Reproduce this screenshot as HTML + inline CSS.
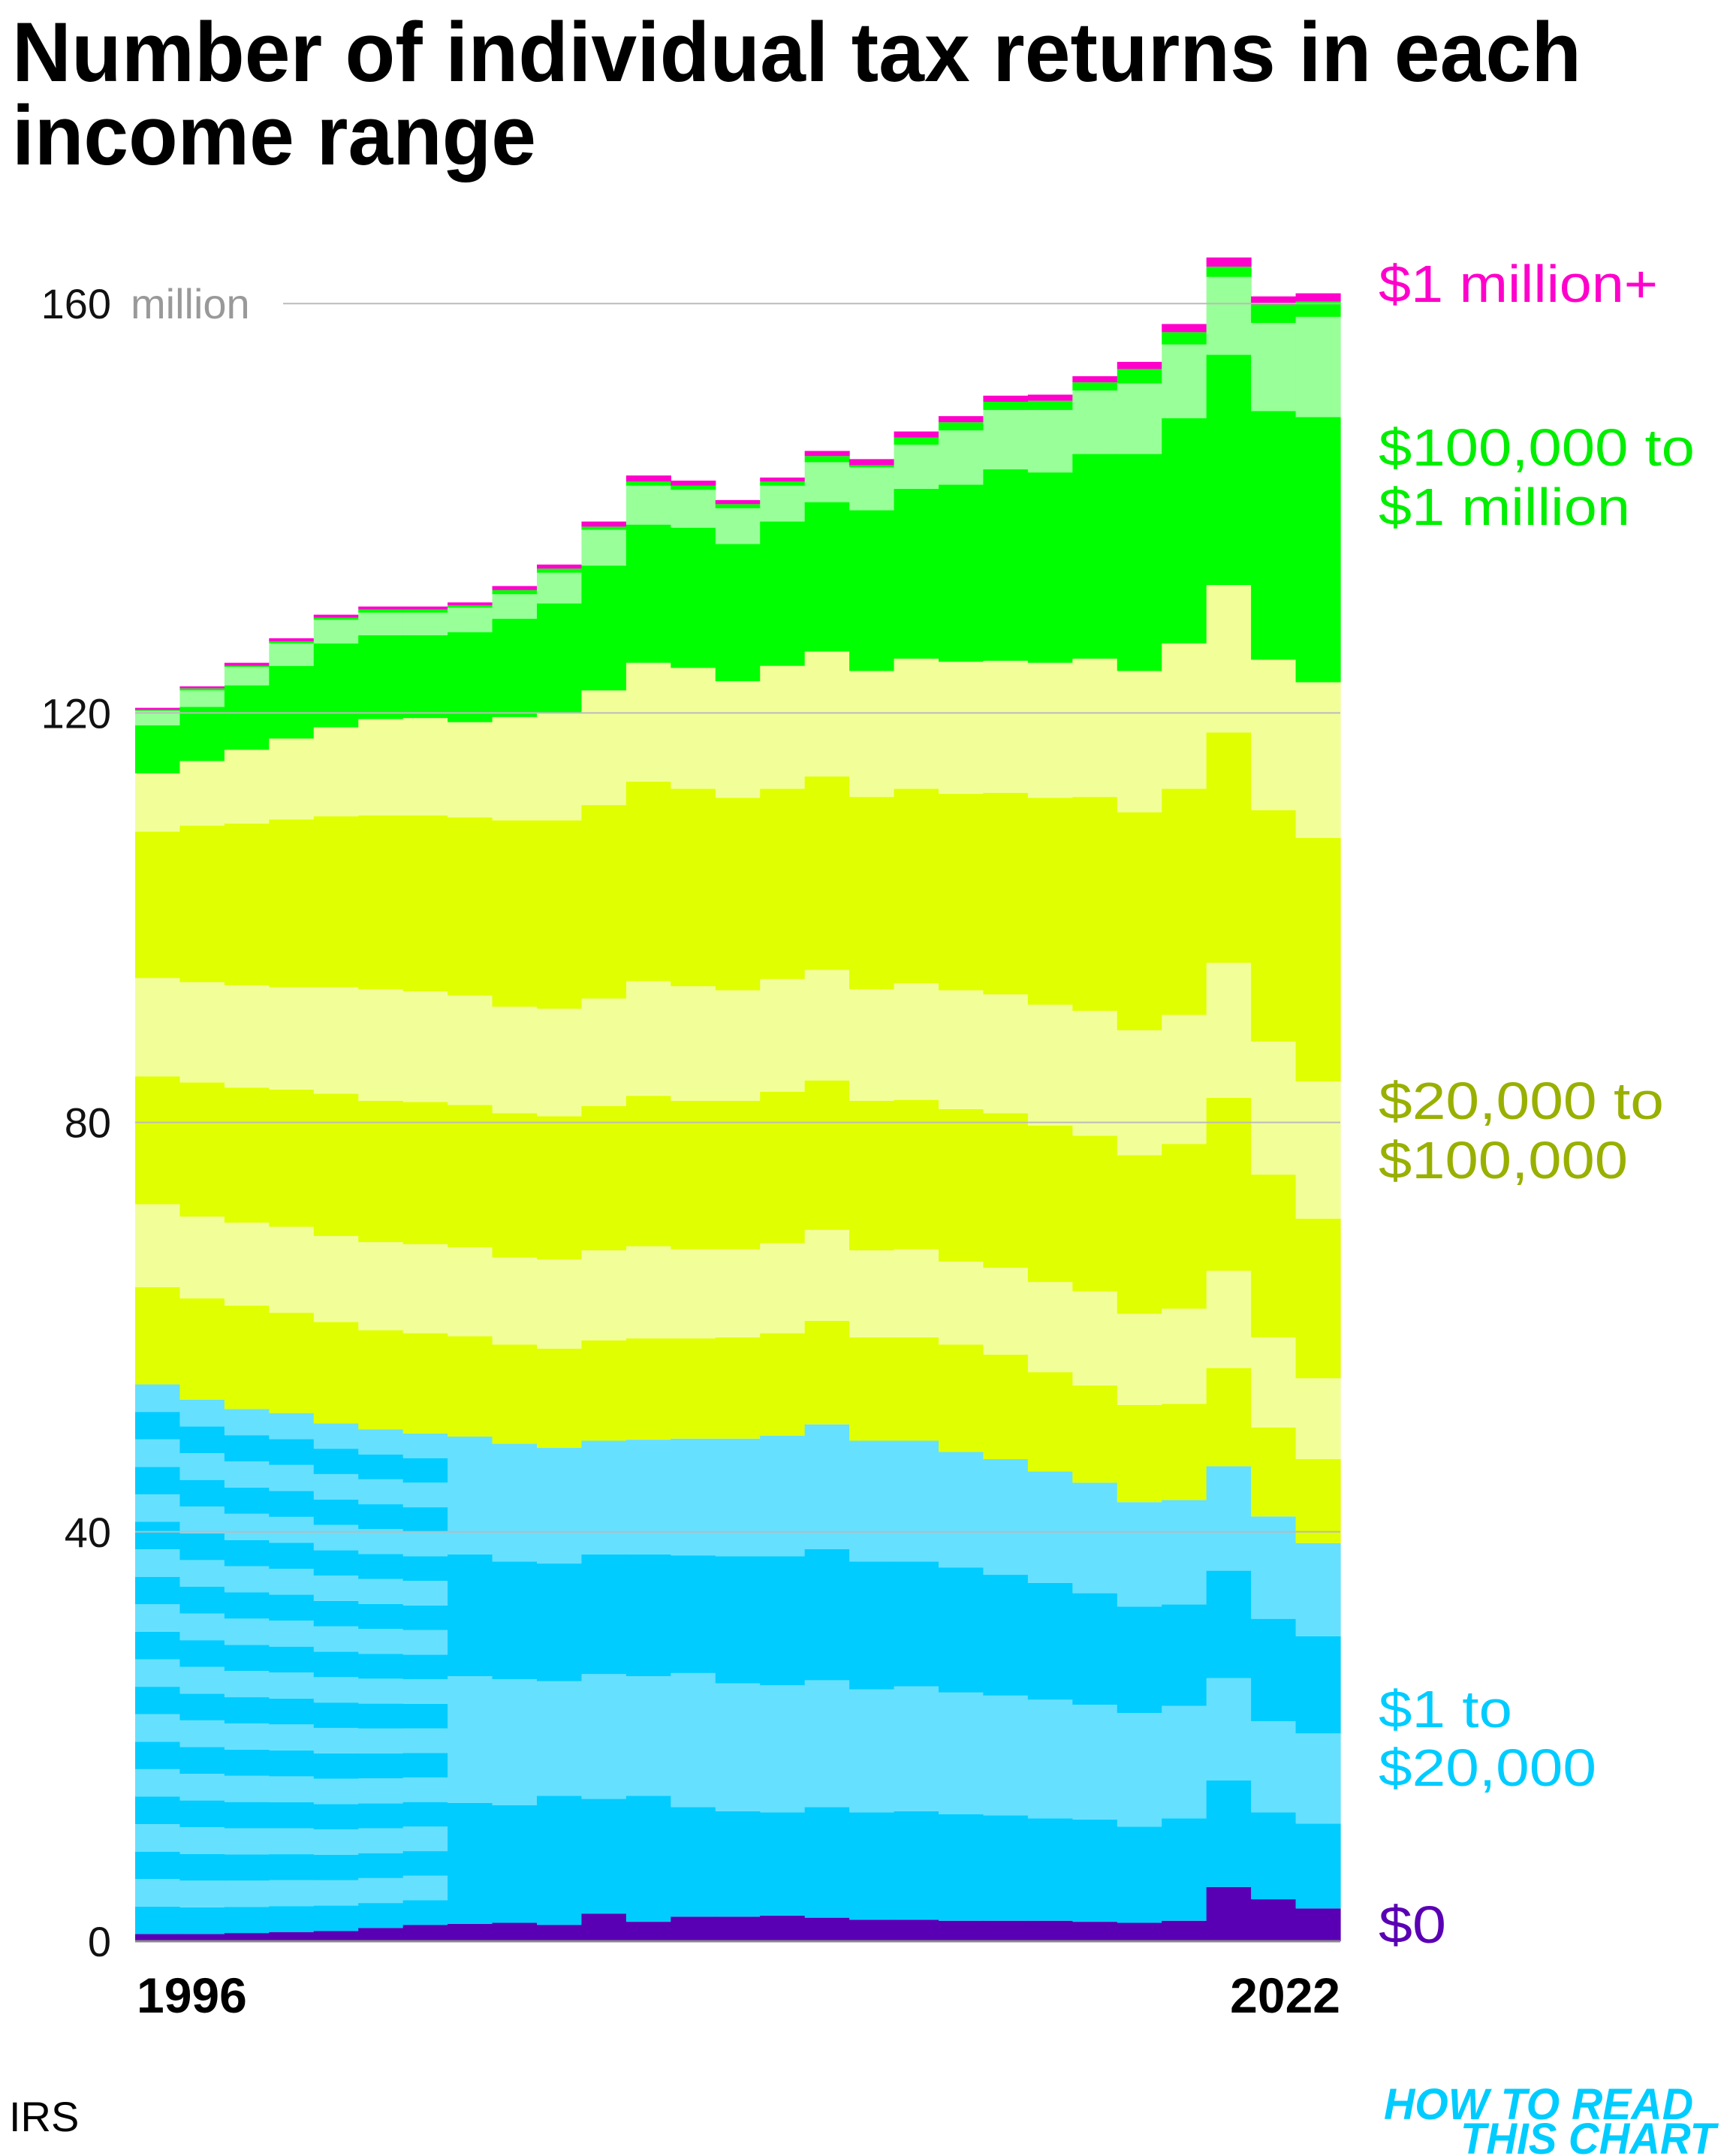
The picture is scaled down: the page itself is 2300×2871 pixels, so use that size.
<!DOCTYPE html>
<html><head><meta charset="utf-8"><style>
html,body{margin:0;padding:0;background:#fff;}
svg{display:block;}
text{font-family:"Liberation Sans",sans-serif;}
</style></head><body>
<svg id="chart" width="2300" height="2871" viewBox="0 0 2300 2871" xmlns="http://www.w3.org/2000/svg">
<g>
<text x="16" y="108" font-size="112" font-weight="bold" textLength="2090" lengthAdjust="spacingAndGlyphs" fill="#000">Number of individual tax returns in each</text>
<text x="16" y="219" font-size="112" font-weight="bold" textLength="698" lengthAdjust="spacingAndGlyphs" fill="#000">income range</text>
</g>
<g id="bars"></g>
<g id="grid"></g>
<g id="axis"></g>
<text x="182" y="2680" font-size="66" font-weight="bold" fill="#000">1996</text>
<text x="1785" y="2680" font-size="66" font-weight="bold" text-anchor="end" fill="#000">2022</text>
<g font-size="70">
<text x="1836" y="402" fill="#ff00cc" textLength="372" lengthAdjust="spacingAndGlyphs">$1 million+</text>
<text x="1836" y="620" fill="#00ee00" textLength="421" lengthAdjust="spacingAndGlyphs">$100,000 to</text>
<text x="1836" y="699" fill="#00ee00" textLength="335" lengthAdjust="spacingAndGlyphs">$1 million</text>
<text x="1836" y="1490" fill="#99b000" textLength="380" lengthAdjust="spacingAndGlyphs">$20,000 to</text>
<text x="1836" y="1569" fill="#99b000" textLength="332" lengthAdjust="spacingAndGlyphs">$100,000</text>
<text x="1836" y="2300" fill="#00ccff" textLength="178" lengthAdjust="spacingAndGlyphs">$1 to</text>
<text x="1836" y="2378" fill="#00ccff" textLength="290" lengthAdjust="spacingAndGlyphs">$20,000</text>
<text x="1836" y="2587" fill="#5a00b4" textLength="90" lengthAdjust="spacingAndGlyphs">$0</text>
</g>
<text x="12" y="2838" font-size="56" fill="#000">IRS</text>
<g font-weight="bold" font-style="italic" fill="#00ccff" font-size="58">
<text x="2255" y="2822" text-anchor="end" textLength="412" lengthAdjust="spacingAndGlyphs">HOW TO READ</text>
<text x="2285" y="2868" text-anchor="end" textLength="340" lengthAdjust="spacingAndGlyphs">THIS CHART</text>
</g>
</svg>
<script>
const years=[1996,1997,1998,1999,2000,2001,2002,2003,2004,2005,2006,2007,2008,2009,2010,2011,2012,2013,2014,2015,2016,2017,2018,2019,2020,2021,2022];
const stripedYears=7;
// cumulative tops (millions)
const zeroTop=[0.7,0.7,0.8,0.9,1.0,1.3,1.6,1.7,1.8,1.6,2.7,1.9,2.4,2.4,2.5,2.3,2.1,2.1,2.0,2.0,2.0,1.9,1.8,2.0,5.3,4.1,3.2];
const to5k=[14.0,13.7,13.5,13.4,13.2,13.2,13.1,13.5,13.3,14.2,13.9,14.2,13.1,12.7,12.6,13.1,12.6,12.7,12.4,12.3,12.0,11.9,11.2,12.0,15.7,12.6,11.5];
const to10k=[27.5,27.0,26.7,26.5,26.2,26.0,25.8,25.9,25.6,25.4,26.1,25.9,26.2,25.2,25.0,25.5,24.6,24.9,24.3,24.0,23.6,23.1,22.3,23.0,25.7,21.5,20.3];
const to15k=[41.0,40.0,39.4,39.1,38.4,38.0,37.7,37.8,37.1,36.9,37.8,37.8,37.7,37.6,37.6,38.3,37.1,37.1,36.5,35.8,35.0,34.0,32.7,32.9,36.2,31.5,29.8];
const to20k=[54.4,52.9,52.0,51.6,50.6,50.0,49.6,49.3,48.6,48.2,48.9,49.0,49.1,49.1,49.4,50.5,48.9,48.9,47.8,47.1,45.9,44.8,42.9,43.1,46.4,41.5,38.9];
const to25k=[63.9,62.8,62.1,61.4,60.5,59.7,59.4,59.1,58.3,57.9,58.7,58.9,58.9,59.0,59.4,60.6,59.0,59.0,58.3,57.3,55.6,54.3,52.4,52.5,56.0,50.2,47.1];
const to30k=[72.0,70.8,70.2,69.8,68.9,68.3,68.1,67.8,66.8,66.6,67.5,67.9,67.6,67.6,68.2,69.5,67.5,67.6,66.4,65.8,64.4,63.5,61.3,61.8,65.5,59.0,55.0];
const to40k=[84.5,83.9,83.4,83.2,82.8,82.1,82.0,81.7,80.9,80.6,81.6,82.6,82.1,82.1,83.0,84.1,82.1,82.2,81.3,80.9,79.7,78.7,76.8,77.9,82.4,74.9,70.6];
const to50k=[94.1,93.7,93.4,93.2,93.2,93.0,92.8,92.4,91.3,91.1,92.1,93.8,93.3,92.9,94.0,94.9,93.0,93.6,92.9,92.5,91.5,90.9,89.0,90.5,95.6,87.9,84.0];
const to75k=[108.4,109.0,109.2,109.6,109.9,110.0,110.0,109.8,109.5,109.5,111.0,113.3,112.6,111.7,112.6,113.8,111.8,112.6,112.1,112.2,111.7,111.8,110.3,112.6,118.1,110.5,107.8];
const to100k=[114.1,115.3,116.4,117.5,118.6,119.4,119.5,119.1,119.6,120.0,122.2,124.9,124.4,123.1,124.6,126.0,124.1,125.3,125.0,125.1,124.9,125.3,124.1,126.8,132.5,125.2,123.0];
const to200k=[118.8,120.6,122.7,124.6,126.8,127.6,127.6,127.9,129.2,130.7,134.4,138.4,138.1,136.5,138.7,140.6,139.8,141.9,142.3,143.8,143.5,145.3,145.3,148.8,155.0,149.5,148.9];
const to500k=[120.2,122.2,124.5,126.8,129.1,129.8,129.8,130.3,131.6,133.7,137.9,142.2,141.8,140.0,142.2,144.5,144.0,146.2,147.6,149.6,149.6,151.5,152.2,156.0,162.6,158.1,158.7];
const to1m=[120.3,122.4,124.6,127.0,129.3,130.1,130.1,130.5,132.0,134.1,138.2,142.6,142.2,140.4,142.6,145.1,144.2,146.9,148.4,150.4,150.5,152.3,153.6,157.2,163.6,159.9,160.2];
const total=[120.5,122.6,124.9,127.3,129.6,130.4,130.4,130.8,132.4,134.5,138.7,143.2,142.7,140.8,143.0,145.6,144.8,147.5,149.0,151.0,151.1,152.9,154.3,158.0,164.5,160.7,161.0];
const yTicks=[0,40,80,120,160];

const X0=180,X1=1785,Y0=2585,PX=13.63;
const bw=(X1-X0)/years.length;
const xs=i=>X0+i*bw;
const ys=v=>Y0-v*PX;
const NS='http://www.w3.org/2000/svg';
const bars=document.getElementById('bars');
const DB='#00ccff',LB='#66e0ff',DY='#e0ff00',LY='#f2ff99',G='#00ff00',LG='#99ff99',PK='#ff00cc',PU='#5a00b4';
function rect(i,lo,hi,color,name){
  const r=document.createElementNS(NS,'rect');
  r.setAttribute('x',xs(i));r.setAttribute('width',bw+0.6);
  r.setAttribute('y',ys(hi));r.setAttribute('height',Math.max(0,ys(lo)-ys(hi)));
  r.setAttribute('fill',color);
  
  
  bars.appendChild(r);
}
const layers=[
 [to20k,to25k,DY,'band-20k-25k'],[to25k,to30k,LY,'band-25k-30k'],[to30k,to40k,DY,'band-30k-40k'],
 [to40k,to50k,LY,'band-40k-50k'],[to50k,to75k,DY,'band-50k-75k'],[to75k,to100k,LY,'band-75k-100k'],
 [to100k,to200k,G,'band-100k-200k'],[to200k,to500k,LG,'band-200k-500k'],[to500k,to1m,G,'band-500k-1m'],[to1m,total,PK,'band-1m-plus']];
years.forEach((y,i)=>{
  rect(i,0,zeroTop[i],PU,'band-zero');
  if(i<stripedYears){
    const n=20,lo=zeroTop[i],h=(to20k[i]-lo)/n;
    for(let k=0;k<n;k++) rect(i,lo+k*h,lo+(k+1)*h,k%2?LB:DB,'band-1k-step');
  } else {
    rect(i,zeroTop[i],to5k[i],DB,'band-1-5k');
    rect(i,to5k[i],to10k[i],LB,'band-5k-10k');
    rect(i,to10k[i],to15k[i],DB,'band-10k-15k');
    rect(i,to15k[i],to20k[i],LB,'band-15k-20k');
  }
  layers.forEach(L=>rect(i,L[0][i],L[1][i],L[2],L[3]));
});
const grid=document.getElementById('grid'),axis=document.getElementById('axis');
yTicks.forEach(t=>{
  const l=document.createElementNS(NS,'line');
  l.setAttribute('x1',t===160?377:X0);l.setAttribute('x2',X1);
  l.setAttribute('y1',ys(t));l.setAttribute('y2',ys(t));
  l.setAttribute('stroke',t===0?'#888':'#bbb');l.setAttribute('stroke-width',t===0?3:2);
  
  
  grid.appendChild(l);
  const tx=document.createElementNS(NS,'text');
  tx.setAttribute('x',148);tx.setAttribute('y',ys(t)+20);
  tx.setAttribute('text-anchor','end');tx.setAttribute('font-size','56');tx.setAttribute('fill','#111');
  tx.textContent=t;
  
  
  axis.appendChild(tx);
});
const m=document.createElementNS(NS,'text');
m.setAttribute('x',174);m.setAttribute('y',ys(160)+20);m.setAttribute('font-size','56');m.setAttribute('fill','#999');
m.textContent='million';


axis.appendChild(m);
</script>
</body></html>
